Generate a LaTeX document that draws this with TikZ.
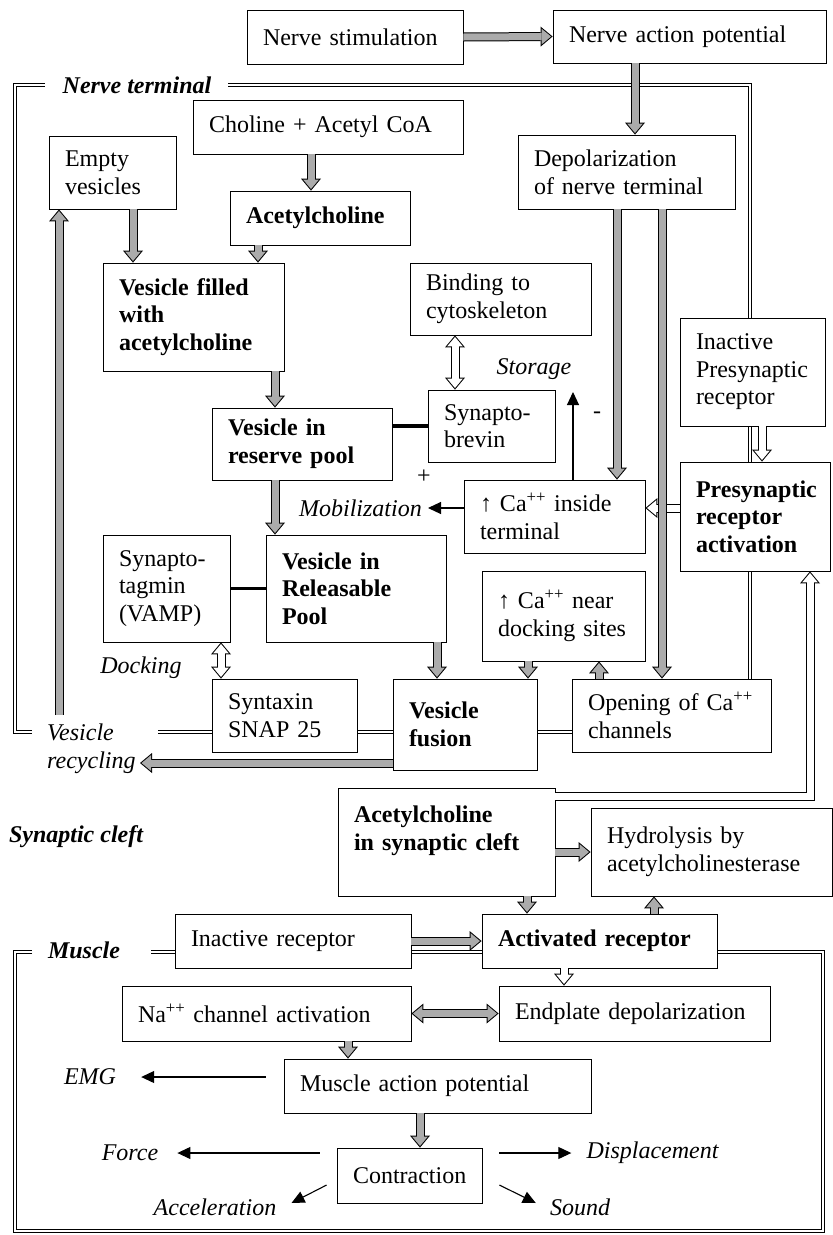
\documentclass[tikz,border=0pt]{standalone}
\usepackage{fontspec}
\setmainfont{Liberation Serif}
\usepackage{tikz}
\usetikzlibrary{arrows.meta}
\hyphenpenalty=10000
\exhyphenpenalty=10000

\tikzset{
  box/.style = {draw, line width = .8pt, fill = white, align = left, inner xsep = 16pt, inner ysep = 0pt, font = \fontsize{24}{27.6}\selectfont},
  bbox/.style = {box, font = \fontsize{24}{27.6}\selectfont\bfseries},
  lab/.style = {inner sep = 0pt, font = \fontsize{24}{27.6}\selectfont\itshape},
  blab/.style = {inner sep = 0pt, font = \fontsize{24}{27.6}\selectfont\bfseries\itshape},
  sym/.style = {inner sep = 0pt, font = \fontsize{24}{27.6}\selectfont},
  wall/.style = {double, double distance = 2.6pt, line width = .8pt},
  bar/.style = {line width = 3.5pt},
  fat/.style = {line width = 9pt, -{Triangle[length = 12pt, width = 20pt, line width = 0pt]},
    postaction = {draw = #1, line width = 7pt, shorten >=1.6pt, -{Triangle[length = 9.4pt, width = 15.7pt, line width = 0pt]}}},
  fat/.default = black!33,
  fatboth/.style = {line width = 9pt, {Triangle[length = 12pt, width = 20pt, line width = 0pt]}-{Triangle[length = 12pt, width = 20pt, line width = 0pt]},
    postaction = {draw = #1, line width = 7pt, shorten >=1.6pt, shorten <=1.6pt, {Triangle[length = 9.4pt, width = 15.7pt, line width = 0pt]}-{Triangle[length = 9.4pt, width = 15.7pt, line width = 0pt]}}},
  fatboth/.default = black!33,
  outarr/.style = {line width = 1.1pt, -{Triangle[length = 13pt, width = 12pt]}}
}

\begin{document}
\begin{tikzpicture}[x = 1pt, y = -1pt]
\useasboundingbox (0, 0) rectangle (833, 1235);
% compartments
\draw[wall] (45, 85) -- (15, 85) -- (15, 732) -- (32, 732);
\draw[wall] (228, 85) -- (750, 85) -- (750, 690);
\draw[wall] (158, 732) -- (580, 732);
\draw[wall] (32, 952) -- (15, 952) -- (15, 1231) -- (823, 1231) -- (823, 952) -- (151, 952);
\node at (137, 85) [name=nterm, blab] {Nerve terminal};
\node at (76, 837) [name=cleft, blab] {Synaptic cleft};
\node at (84, 950) [name=musc, blab] {Muscle};
\node at (47, 749) [name=recyc, lab, anchor=west, align=left] {Vesicle\\recycling};
\node at (534, 369) [name=storage, lab] {Storage};
\node at (422, 508) [name=mob, lab, anchor=east] {Mobilization};
\node at (141, 668) [name=dock, lab] {Docking};
\node at (424, 477) [name=plus, sym] {+};
\node at (597, 415) [name=minus, sym] {-};
\node at (90, 1077) [name=emg, lab] {EMG};
\node at (130, 1153) [name=force, lab] {Force};
\node at (652.5, 1153) [name=displ, lab] {Displacement};
\node at (215, 1207) [name=acc, lab] {Acceleration};
\node at (580, 1207) [name=sound, lab] {Sound};
\coordinate (stor) at (573, 392);
\coordinate (rectip) at (140, 763);
\coordinate (recbase) at (59, 715);
% boxes
\node at (355, 37) [name=stim, box, text width=184pt, minimum height=54pt] {Nerve stimulation};
\node at (689.5, 36.5) [name=nap, box, text width=241pt, minimum height=53pt] {Nerve action potential};
\node at (328, 127) [name=chol, box, text width=238pt, minimum height=54pt] {Choline + Acetyl CoA};
\node at (112.5, 172.5) [name=empty, box, text width=95pt, minimum height=73pt] {Empty\\vesicles};
\node at (320, 218) [name=ach, bbox, text width=148pt, minimum height=54pt] {Acetylcholine};
\node at (626.5, 172) [name=depol, box, text width=185pt, minimum height=74pt] {Depolarization\\of nerve terminal};
\node at (193.5, 317) [name=filled, bbox, text width=149pt, minimum height=108pt] {Vesicle filled\\with\\acetylcholine};
\node at (500.5, 299) [name=bind, box, text width=149pt, minimum height=72pt] {Binding to\\cytoskeleton};
\node at (752.5, 372) [name=inpre, box, text width=113pt, minimum height=108pt] {Inactive\\Presynaptic\\receptor};
\node at (491.5, 426) [name=brevin, box, text width=95pt, minimum height=72pt] {Synapto-\\brevin};
\node at (302, 444) [name=reserve, bbox, text width=148pt, minimum height=72pt] {Vesicle in\\reserve pool};
\node at (554.5, 516.5) [name=cain, box, text width=149pt, minimum height=73pt] {↑ Ca\textsuperscript{++} inside\\terminal};
\node at (755, 516.5) [name=preact, bbox, text width=118pt, minimum height=109pt] {Presynaptic\\receptor\\activation};
\node at (166.5, 588.5) [name=tagmin, box, text width=95pt, minimum height=107pt] {Synapto-\\tagmin\\(VAMP)};
\node at (356, 588.5) [name=rpool, bbox, text width=148pt, minimum height=107pt] {Vesicle in\\Releasable\\Pool};
\node at (563.5, 616) [name=canear, box, text width=131pt, minimum height=90pt] {↑ Ca\textsuperscript{++} near\\docking sites};
\node at (284.5, 715.5) [name=syntax, box, text width=113pt, minimum height=73pt] {Syntaxin\\SNAP 25};
\node at (465, 724.5) [name=fusion, bbox, text width=112pt, minimum height=91pt] {Vesicle\\fusion};
\node at (671.5, 715.5) [name=opening, box, text width=167pt, minimum height=73pt] {Opening of Ca\textsuperscript{++}\\channels};
\node at (446.5, 842) [name=achcleft, bbox, text width=185pt, minimum height=108pt] {Acetylcholine\\in synaptic cleft\\\mbox{}};
\node at (711.5, 852) [name=hydro, box, text width=209pt, minimum height=88pt] {Hydrolysis by\\acetylcholinesterase};
\node at (293, 941) [name=inrec, box, text width=204pt, minimum height=54pt] {Inactive receptor};
\node at (599.5, 941) [name=actrec, bbox, text width=203pt, minimum height=54pt] {Activated receptor};
\node at (266.5, 1013.5) [name=na, box, text width=257pt, minimum height=55pt] {Na\textsuperscript{++} channel activation};
\node at (634.5, 1013.5) [name=endplate, box, text width=239pt, minimum height=55pt] {Endplate depolarization};
\node at (437.5, 1086) [name=map, box, text width=275pt, minimum height=54pt] {Muscle action potential};
\node at (409.5, 1175.5) [name=contr, box, text width=113pt, minimum height=55pt] {Contraction};
% links
\draw[bar] ([yshift = 18pt]reserve.east) -- (brevin.west);
\draw[bar] (tagmin.east) -- (rpool.west);
\draw[fat = white] ([yshift = 8.5pt]preact.west) -- ([yshift = 8.5pt]cain.east);
\draw[fat] (stim.east) -- (nap.west);
\draw[fat] ([xshift = -54.5pt]nap.south) -- ([xshift = 8.5pt]depol.north);
\draw[fat] ([xshift = 20.5pt]empty.south) -- ([xshift = -60.5pt]filled.north);
\draw[fat] ([xshift = -17pt]chol.south) -- ([xshift = -9pt]ach.north);
\draw[fat] ([xshift = -62pt]ach.south) -- ([xshift = 64.5pt]filled.north);
\draw[fat] ([xshift = 81.5pt]filled.south) -- ([xshift = -27pt]reserve.north);
\draw[fat] ([xshift = -27pt]reserve.south) -- ([xshift = -81pt]rpool.north);
\draw[fat] ([xshift = -9.5pt]depol.south) -- ([xshift = 62.5pt]cain.north);
\draw[fat] ([xshift = 35.5pt]depol.south) -- ([xshift = -9.5pt]opening.north);
\draw[fat] ([xshift = 81pt]rpool.south) -- ([xshift = -28pt]fusion.north);
\draw[fat] ([xshift = -35.5pt]canear.south) -- ([xshift = 63pt]fusion.north);
\draw[fat] ([xshift = -72.5pt]opening.north) -- ([xshift = 35.5pt]canear.south);
\draw[fat] ([yshift = -38.5pt]fusion.west) -- (rectip);
\draw[fat] (recbase) -- ([xshift = -53.5pt]empty.south);
\draw[fatboth = white] ([xshift = -45.5pt]bind.south) -- ([xshift = -36.5pt]brevin.north);
\draw[fatboth = white] ([xshift = 54.5pt]tagmin.south) -- ([xshift = -63.5pt]syntax.north);
\draw[fat = white] ([xshift = 9.5pt]inpre.south) -- ([xshift = 7pt]preact.north);
\draw[fat = white] ([yshift = 46pt]achcleft.east) -| ([xshift = 55pt]preact.south);
\draw[fat] ([yshift = -10pt]achcleft.east) -- (hydro.west);
\draw[fat] ([xshift = 80.5pt]achcleft.south) -- ([xshift = -72.5pt]actrec.north);
\draw[fat] ([xshift = 54.5pt]actrec.north) -- ([xshift = -57.5pt]hydro.south);
\draw[fat] (inrec.east) -- (actrec.west);
\draw[fat = white] ([xshift = -35.5pt]actrec.south) -- ([xshift = -70.5pt]endplate.north);
\draw[fatboth] (na.east) -- (endplate.west);
\draw[fat] ([xshift = 81.5pt]na.south) -- ([xshift = -89.5pt]map.north);
\draw[fat] ([xshift = -17.5pt]map.south) -- ([xshift = 10.5pt]contr.north);
\draw[outarr] ([xshift = 18.5pt]cain.north) -- (stor);
\draw[outarr] (cain.west |- mob.east) -- ([xshift = 6pt]mob.east);
\draw[outarr] ([xshift = -18pt, yshift = 9pt]map.west) -- ([xshift = 25pt]emg.east);
\draw[outarr] ([xshift = -17pt, yshift = 22.5pt]contr.west) -- ([xshift = 19pt]force.east);
\draw[outarr] ([xshift = 17pt, yshift = 22.5pt]contr.east) -- ([xshift = -15pt]displ.west);
\draw[outarr] ([xshift = -10pt, yshift = -9.5pt]contr.west) -- ([xshift = 15pt, yshift = 4pt]acc.east);
\draw[outarr] ([xshift = 17pt, yshift = -9.5pt]contr.east) -- ([xshift = -14pt, yshift = 4pt]sound.west);
\end{tikzpicture}
\end{document}
